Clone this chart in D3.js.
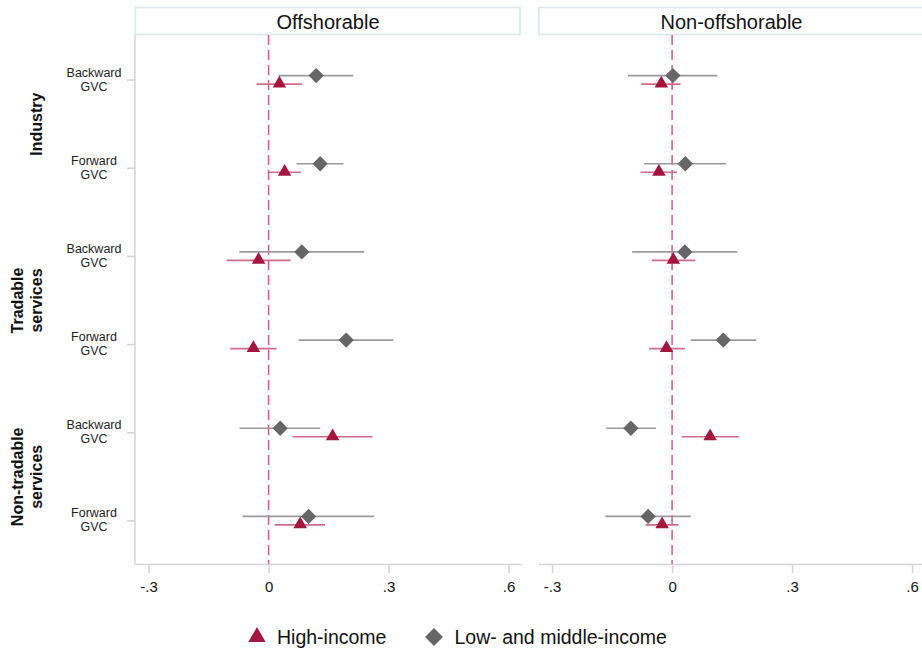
<!DOCTYPE html>
<html>
<head>
<meta charset="utf-8">
<script src="https://cdn.jsdelivr.net/npm/d3@7/dist/d3.min.js"></script>
<style>
  html, body { margin: 0; padding: 0; background: #fff; }
  svg { display: block; font-family: Arial, "Liberation Sans", sans-serif; }
</style>
</head>
<body>
<svg id="chart" width="922" height="653"></svg>
<script>
// ---- data ---------------------------------------------------------------
const panels = ["Offshorable", "Non-offshorable"];
const groups = ["Industry", "Tradable services", "Non-tradable services"];
const gvcTypes = ["Backward", "Forward"];
const xTicks = [-0.3, 0, 0.3, 0.6];
const xTickLabels = ["-.3", "0", ".3", ".6"];
const seriesNames = ["High-income", "Low- and middle-income"];

// rows: Industry B/F, Tradable services B/F, Non-tradable services B/F
const highOffCoef = [0.027, 0.040, -0.025, -0.038, 0.160, 0.079];
const highOffLo   = [-0.030, 0.000, -0.105, -0.096, 0.060, 0.015];
const highOffHi   = [0.083, 0.081, 0.055, 0.020, 0.260, 0.141];
const lmOffCoef   = [0.119, 0.129, 0.083, 0.194, 0.029, 0.100];
const lmOffLo     = [0.025, 0.070, -0.073, 0.075, -0.073, -0.065];
const lmOffHi     = [0.212, 0.187, 0.239, 0.312, 0.129, 0.264];

const highNonCoef = [-0.027, -0.033, 0.003, -0.014, 0.095, -0.025];
const highNonLo   = [-0.077, -0.079, -0.051, -0.058, 0.024, -0.066];
const highNonHi   = [0.021, 0.012, 0.058, 0.032, 0.167, 0.016];
const lmNonCoef   = [0.002, 0.033, 0.032, 0.128, -0.103, -0.060];
const lmNonLo     = [-0.110, -0.070, -0.100, 0.047, -0.165, -0.167];
const lmNonHi     = [0.113, 0.135, 0.163, 0.210, -0.040, 0.047];

const panelData = [
  { high: [highOffCoef, highOffLo, highOffHi], lm: [lmOffCoef, lmOffLo, lmOffHi] },
  { high: [highNonCoef, highNonLo, highNonHi], lm: [lmNonCoef, lmNonLo, lmNonHi] }
];

// ---- layout --------------------------------------------------------------
const svg = d3.select("#chart");
const plotTop = 35, plotBottom = 564;
const panelLeft = [135, 538.5];
const panelWidth = 386;
const headerTop = 7.5, headerH = 27;

const colHigh = "#a3173f", colHighCI = "#cf6b86";
const colLM = "#666666", colLMCI = "#9a9a9a";
const colZero = "#e2557c";
const axisCol = "#d4d4d4";

const rowIds = [];
groups.forEach(g => gvcTypes.forEach(t => rowIds.push(g + "|" + t)));

const y = d3.scalePoint().domain(rowIds).range([plotTop + 1, plotBottom + 1]).padding(0.5);
const x = d3.scaleLinear().domain([-0.334, 0.631]).range([0, panelWidth]);

const triangle = d3.symbol().type(d3.symbolTriangle).size(80);
const diamond = d3.symbol().type(d3.symbolSquare).size(118);

panels.forEach((title, p) => {
  const g = svg.append("g").attr("transform", `translate(${panelLeft[p]},0)`);

  // header strip
  g.append("rect")
    .attr("x", 0.5).attr("y", headerTop)
    .attr("width", panelWidth - 1.5).attr("height", headerH)
    .attr("fill", "#fff").attr("stroke", "#dde7ef").attr("stroke-width", 1.6);
  g.append("text")
    .attr("x", panelWidth / 2).attr("y", headerTop + headerH / 2 + 1)
    .attr("text-anchor", "middle").attr("dominant-baseline", "central")
    .attr("font-size", 20).attr("fill", "#111").text(title);

  // x axis
  const xa = g.append("g").attr("transform", `translate(0,${plotBottom})`)
    .call(d3.axisBottom(x).tickValues(xTicks).tickSize(9).tickSizeOuter(0)
      .tickFormat((d, i) => xTickLabels[i]));
  xa.select(".domain").attr("stroke", axisCol).attr("stroke-width", 1.5);
  xa.selectAll(".tick line").attr("stroke", axisCol).attr("stroke-width", 1.5);
  xa.selectAll(".tick text").attr("font-size", 15).attr("fill", "#111")
    .attr("font-family", "Arial, 'Liberation Sans', sans-serif").attr("dy", "1.05em");

  // zero reference line
  g.append("line")
    .attr("x1", x(0)).attr("x2", x(0))
    .attr("y1", plotTop).attr("y2", plotBottom)
    .attr("stroke", colZero).attr("stroke-width", 1.5)
    .attr("stroke-dasharray", "10,5");

  const d = panelData[p];
  const lmOff = -4.5, highOff = 4;

  // confidence intervals
  rowIds.forEach((r, i) => {
    g.append("line")
      .attr("x1", x(d.lm[1][i])).attr("x2", x(d.lm[2][i]))
      .attr("y1", y(r) + lmOff).attr("y2", y(r) + lmOff)
      .attr("stroke", colLMCI).attr("stroke-width", 1.6);
    g.append("line")
      .attr("x1", x(d.high[1][i])).attr("x2", x(d.high[2][i]))
      .attr("y1", y(r) + highOff).attr("y2", y(r) + highOff)
      .attr("stroke", colHighCI).attr("stroke-width", 1.6);
  });

  // point estimates
  rowIds.forEach((r, i) => {
    g.append("path").attr("d", diamond)
      .attr("transform", `translate(${x(d.lm[0][i])},${y(r) + lmOff}) rotate(45)`)
      .attr("fill", colLM);
    g.append("path").attr("d", triangle)
      .attr("transform", `translate(${x(d.high[0][i])},${y(r) + highOff - 0.5})`)
      .attr("fill", colHigh);
  });
});

// y axis on the left panel
const ya = svg.append("g").attr("transform", `translate(${panelLeft[0]},0)`);
ya.append("line").attr("x1", 0).attr("x2", 0).attr("y1", plotTop).attr("y2", plotBottom + 0.75)
  .attr("stroke", axisCol).attr("stroke-width", 1.5);
rowIds.forEach(r => {
  ya.append("line").attr("x1", -8).attr("x2", 0).attr("y1", y(r)).attr("y2", y(r))
    .attr("stroke", axisCol).attr("stroke-width", 1.5);
  ya.append("text").attr("text-anchor", "middle").attr("font-size", 12.5)
    .attr("fill", "#222").attr("x", -41).attr("y", y(r) - 3.5)
    .text(r.split("|")[1]);
  ya.append("text").attr("text-anchor", "middle").attr("font-size", 12.5)
    .attr("fill", "#222").attr("x", -41).attr("y", y(r) + 10.5)
    .text("GVC");
});

// group labels (rotated, bold)
const groupLines = [["Industry"], ["Tradable", "services"], ["Non-tradable", "services"]];
groupLines.forEach((lines, gi) => {
  const yc = (y(groups[gi] + "|Backward") + y(groups[gi] + "|Forward")) / 2;
  lines.forEach((ln, li) => {
    const xc = 36 - (lines.length - 1 - li) * 18.4;
    svg.append("text")
      .attr("transform", `translate(${xc},${yc}) rotate(-90)`)
      .attr("text-anchor", "middle").attr("dominant-baseline", "central")
      .attr("font-size", 16).attr("font-weight", "bold").attr("fill", "#111")
      .text(ln);
  });
});

// legend
const legY = 637;
const leg = svg.append("g");
leg.append("path").attr("d", d3.symbol().type(d3.symbolTriangle).size(130))
  .attr("transform", `translate(257,${legY})`).attr("fill", colHigh);
leg.append("text").attr("x", 277).attr("y", legY).attr("dominant-baseline", "central")
  .attr("font-size", 19.5).attr("fill", "#111").text(seriesNames[0]);
leg.append("path").attr("d", d3.symbol().type(d3.symbolSquare).size(160))
  .attr("transform", `translate(434,${legY}) rotate(45)`).attr("fill", colLM);
leg.append("text").attr("x", 454.5).attr("y", legY).attr("dominant-baseline", "central")
  .attr("font-size", 19.5).attr("fill", "#111").text(seriesNames[1]);
</script>
</body>
</html>
